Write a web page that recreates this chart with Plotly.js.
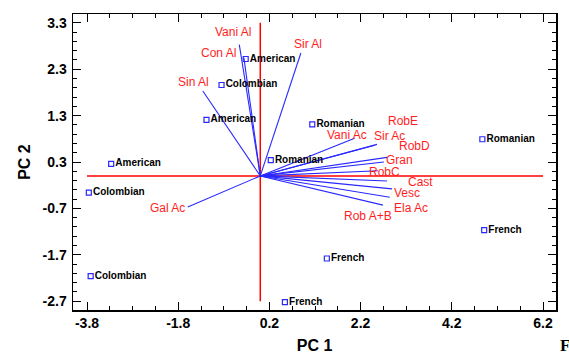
<!DOCTYPE html>
<html>
<head>
<meta charset="utf-8">
<script src="https://cdn.plot.ly/plotly-3.0.1.min.js"></script>
<style>html,body{margin:0;padding:0;background:#fff;}#chart{width:569px;height:354px;}</style>
</head>
<body>
<div id="chart"></div>
<script>
// Sample scores (PC1, PC2)
const sampleLabels = ["American","Colombian","American","American","Colombian","Colombian",
                      "Romanian","Romanian","Romanian","French","French","French"];
const samplePC1 = [-0.32,-0.85,-1.18,-3.27,-3.76,-3.72, 0.23,1.14,4.87, 4.91,1.46,0.54];
const samplePC2 = [ 2.52, 1.96, 1.21, 0.26,-0.36,-2.16, 0.34,1.11,0.79,-1.17,-1.78,-2.72];

// Variable loadings (vector end points)
const varLabels = ["Vani Al","Con Al","Sir Al","Sin Al","Gal Ac","Vani Ac","Sir Ac","RobE",
                   "RobD","Gran","RobC","Cast","Vesc","Ela Ac","Rob A+B"];
const varPC1 = [-0.46,-0.36,0.89,-1.26,-1.59,2.07,2.56,2.51,2.78,2.71,2.58,2.78,2.89,2.84,2.69];
const varPC2 = [ 2.83, 2.55,2.65, 1.83,-0.67,0.81,0.68,0.66,0.40,0.30,0.11,-0.11,-0.28,-0.46,-0.63];

// Reference axes (red cross)
const refH_x = [-3.8, 6.2], refH_y = [0, 0];
const refV_x = [0, 0],      refV_y = [-2.7, 3.3];

// Tick labels
const xTickVals = [-3.8,-1.8,0.2,2.2,4.2,6.2];
const xTickText = ["-3.8","-1.8","0.2","2.2","4.2","6.2"];
const yTickVals = [-2.7,-1.7,-0.7,0.3,1.3,2.3,3.3];
const yTickText = ["-2.7","-1.7","-0.7","0.3","1.3","2.3","3.3"];

// label pixel offsets for variable names (style only)
const varLabelShift = [[-6,13],[-25,5],[7,9],[-9,9],[-20,-1],[-8,3],[12,8],[28,24],
                       [27,11],[16,2],[7,-1],[33,-1],[15,-4],[21,-11],[-15,-11]];

const blue = "rgb(40,40,255)";
const red = "rgb(255,30,30)";

const traces = [];
traces.push({x: refH_x, y: refH_y, mode:"lines", line:{color:"#ff0000", width:1.5}, hoverinfo:"skip", showlegend:false});
traces.push({x: refV_x, y: refV_y, mode:"lines", line:{color:"#ff0000", width:1.5}, hoverinfo:"skip", showlegend:false});

const vx = [], vy = [];
varPC1.forEach((v,i)=>{ vx.push(0, v, null); vy.push(0, varPC2[i], null); });
traces.push({x: vx, y: vy, mode:"lines", line:{color:blue, width:1.1}, hoverinfo:"skip", showlegend:false});

traces.push({
  x: samplePC1, y: samplePC2, text: sampleLabels, mode:"markers+text",
  textposition:"middle right",
  textfont:{family:"Arial, Liberation Sans, sans-serif", size:10, color:"#000", weight:"bold"},
  marker:{symbol:"square-open", size:5, color:blue, line:{width:1.2, color:blue}},
  showlegend:false
});

const annotations = varLabels.map((t,i)=>({
  x: varPC1[i], y: varPC2[i], xref:"x", yref:"y", text:t, showarrow:false,
  xshift: varLabelShift[i][0], yshift: varLabelShift[i][1],
  font:{family:"Arial, Liberation Sans, sans-serif", size:12, color:red}
}));
annotations.push({xref:"paper", yref:"paper", x:1.004, y:-0.1216, text:"<b>F</b>", showarrow:false,
  xanchor:"left", yanchor:"middle", font:{family:"Liberation Serif, Times New Roman, serif", size:17, color:"#000"}});

const tickFont = {family:"Arial, Liberation Sans, sans-serif", size:14, color:"#000", weight:"bold"};

const layout = {
  width:569, height:354,
  margin:{l:73, r:13, t:14, b:44, pad:0},
  paper_bgcolor:"#fff", plot_bgcolor:"#fff",
  showlegend:false,
  xaxis:{
    range:[-4.107, 6.485], tickvals:xTickVals, ticktext:xTickText,
    ticks:"inside", ticklen:8, tickwidth:1, tickcolor:"#000",
    minor:{tick0:-3.8, dtick:0.5, ticks:"inside", ticklen:4, tickcolor:"#000"},
    showgrid:false, zeroline:false, showline:true, linecolor:"#000", linewidth:1.5, mirror:"allticks",
    tickfont:tickFont,
    title:{text:"<b>PC 1</b>", font:{family:"Arial, Liberation Sans, sans-serif", size:16, color:"#000"}, standoff:10}
  },
  yaxis:{
    range:[-2.89, 3.49], tickvals:yTickVals, ticktext:yTickText,
    ticks:"inside", ticklen:8, tickwidth:1, tickcolor:"#000",
    minor:{tick0:-2.7, dtick:0.2, ticks:"inside", ticklen:4, tickcolor:"#000"},
    showgrid:false, zeroline:false, showline:true, linecolor:"#000", linewidth:1.5, mirror:"allticks",
    tickfont:tickFont, ticklabelstandoff:2,
    title:{text:"<b>PC 2</b>", font:{family:"Arial, Liberation Sans, sans-serif", size:16, color:"#000"}, standoff:8}
  },
  annotations: annotations
};

Plotly.newPlot("chart", traces, layout, {staticPlot:true, displayModeBar:false});
</script>
</body>
</html>
